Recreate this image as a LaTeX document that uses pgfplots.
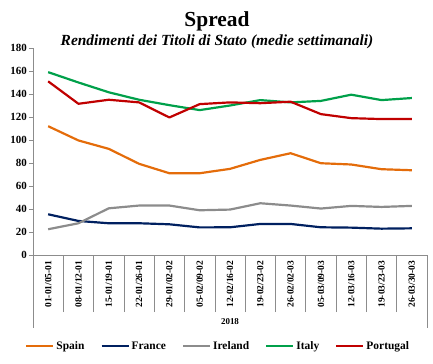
\documentclass[border=0pt]{standalone}
\usepackage{pgfplots}
\pgfplotsset{compat=1.18}
\usepackage{fontspec}
\setmainfont{Liberation Serif}
\definecolor{cSpain}{HTML}{E46C0A}
\definecolor{cFrance}{HTML}{002060}
\definecolor{cIreland}{HTML}{8C8C8C}
\definecolor{cItaly}{HTML}{00A04A}
\definecolor{cPortugal}{HTML}{C00000}
\definecolor{axisgray}{HTML}{8C8C8C}
\begin{document}
\begin{tikzpicture}
\begin{axis}[
  at={(0bp,0bp)}, anchor=south west,
  scale only axis, width=394bp, height=207bp,
  xmin=0.5, xmax=13.5, ymin=0, ymax=180,
  axis x line*=bottom, axis y line*=left,
  axis line style={draw=axisgray, line width=0.7pt, -},
  tick align=outside,
  /pgf/number format/assume math mode=true,
  xtick={1,...,13},
  xticklabels={01-01/05-01,08-01/12-01,15-01/19-01,22-01/26-01,29-01/02-02,05-02/09-02,12-02/16-02,19-02/23-02,26-02/02-03,05-03/09-03,12-03/16-03,19-03/23-03,26-03/30-03},
  xticklabel style={rotate=90, anchor=east, font=\fontsize{9.5}{10}\selectfont\bfseries, inner sep=1.5pt},
  major x tick style={draw=none},
  minor xtick={1.5,2.5,...,12.5},
  minor x tick style={draw=axisgray, line width=0.6pt},
  minor tick length=57bp,
  ytick={0,20,...,180},
  major tick length=4bp,
  major y tick style={draw=axisgray, line width=0.6pt},
  yticklabel style={font=\fontsize{11}{12}\selectfont\bfseries, inner sep=2pt},
  clip=false,
  legend columns=5,
  legend style={at={(0.47,-0.44)}, anchor=center, draw=none, fill=none,
    font=\fontsize{11.5}{12}\selectfont\bfseries,
    /tikz/every even column/.append style={column sep=14bp},
    inner sep=0pt},
  legend image code/.code={\draw[#1, line width=2.2pt] (0bp,0bp) -- (27bp,0bp);},
  every axis plot/.append style={line width=2.2pt, line join=round},
]
\addplot[cSpain] coordinates {(1,112) (2,99.6) (3,92.3) (4,79.3) (5,71.1) (6,71.1) (7,74.9) (8,82.7) (9,88.5) (10,79.8) (11,78.7) (12,74.6) (13,73.7)};
\addlegendentry{Spain}
\addplot[cFrance] coordinates {(1,35.4) (2,29.6) (3,27.6) (4,27.6) (5,26.7) (6,24.0) (7,24.1) (8,27.0) (9,27.0) (10,24.1) (11,23.8) (12,22.9) (13,23.2)};
\addlegendentry{France}
\addplot[cIreland] coordinates {(1,22.4) (2,27.6) (3,40.6) (4,43.0) (5,43.0) (6,38.9) (7,39.5) (8,45.0) (9,43.0) (10,40.4) (11,42.7) (12,41.8) (13,42.7)};
\addlegendentry{Ireland}
\addplot[cItaly] coordinates {(1,159) (2,150) (3,141.5) (4,135) (5,130.3) (6,126) (7,130) (8,134.7) (9,132.7) (10,134) (11,139.4) (12,134.7) (13,136.5)};
\addlegendentry{Italy}
\addplot[cPortugal] coordinates {(1,151) (2,131.5) (3,135) (4,132.7) (5,119.6) (6,131.2) (7,132.7) (8,132) (9,133.3) (10,122.5) (11,119) (12,118.2) (13,118.2)};
\addlegendentry{Portugal}
\draw[axisgray, line width=0.6pt] (axis cs:0.5,0) -- ++(0bp,-73bp);
\draw[axisgray, line width=0.6pt] (axis cs:13.5,0) -- ++(0bp,-73bp);
\node[font=\fontsize{9}{10}\selectfont\bfseries] at ([yshift=-67bp]axis cs:7,0) {2018};
\end{axis}
\node[font=\fontsize{21.5}{23}\selectfont\bfseries] at (184bp,234bp) {Spread};
\node[font=\fontsize{15.5}{17}\selectfont\bfseries\itshape] at (184bp,213bp) {Rendimenti dei Titoli di Stato (medie settimanali)};
\path[use as bounding box] (-33bp,-109bp) rectangle (400bp,255bp);
\end{tikzpicture}
\end{document}
